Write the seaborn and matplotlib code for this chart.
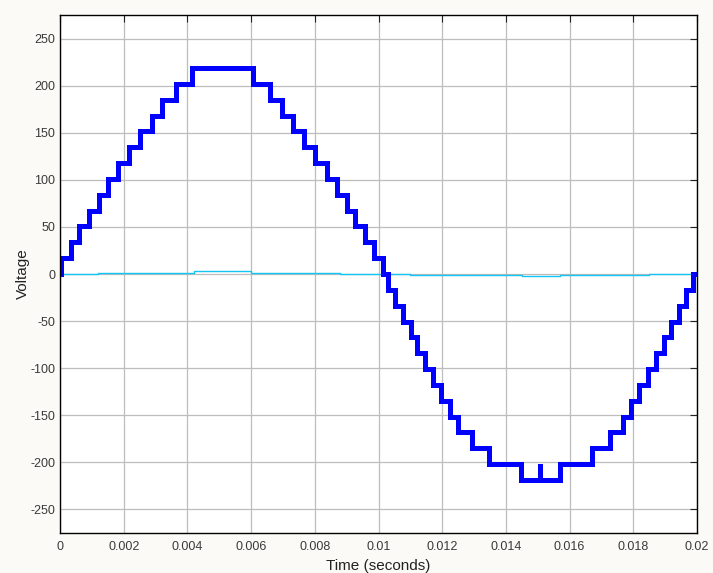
import numpy as np
import pandas as pd
import matplotlib
matplotlib.use("Agg")
import matplotlib.pyplot as plt
import seaborn as sns

# Staircase inverter output: switching instants (s) and voltage level held from each instant
step_times = [0.0, 0.00003, 0.000345, 0.000597, 0.00091, 0.001215, 0.001517, 0.00183,
              0.002157, 0.002512, 0.002879, 0.003212, 0.003633, 0.004135,
              0.00607, 0.00658, 0.00696, 0.00731, 0.00766, 0.00801, 0.00837, 0.00869,
              0.00900, 0.00927, 0.00958, 0.00987, 0.01015,
              0.01031, 0.01052, 0.01078, 0.01102, 0.01122, 0.01146, 0.01170, 0.01196,
              0.01224, 0.01250, 0.01293, 0.01348, 0.01448, 0.01506, 0.01508,
              0.01570, 0.01669, 0.01727, 0.01767, 0.01792, 0.01819, 0.01845, 0.01871,
              0.01897, 0.01917, 0.01944, 0.01965, 0.01988, 0.02000]
step_volts = [0, 17, 34, 51, 67, 84, 101, 118,
              135, 152, 168, 185, 202, 219,
              202, 185, 168, 152, 135, 118, 101, 84,
              67, 51, 34, 17, 0,
              -17, -34, -51, -67, -84, -101, -118, -135,
              -152, -168, -185, -202, -219, -202, -219,
              -202, -185, -168, -152, -135, -118, -101, -84,
              -67, -51, -34, -17, 0, 0]

# Small second trace near zero
ref_times = [0.0, 0.0012, 0.0042, 0.0060, 0.0088, 0.0110, 0.0145, 0.0157, 0.0185, 0.0200]
ref_volts = [0.3, 1.5, 2.8, 1.5, 0.3, -1.0, -2.0, -1.0, -0.3, 0.3]

x_ticks = [0, 0.002, 0.004, 0.006, 0.008, 0.01, 0.012, 0.014, 0.016, 0.018, 0.02]
x_tick_labels = ["0", "0.002", "0.004", "0.006", "0.008", "0.01", "0.012", "0.014",
                 "0.016", "0.018", "0.02"]
y_ticks = [-250, -200, -150, -100, -50, 0, 50, 100, 150, 200, 250]

sns.set_theme(style="white")
plt.rcParams["font.family"] = ["Liberation Sans", "DejaVu Sans"]
plt.rcParams["axes.unicode_minus"] = False

fig = plt.figure(figsize=(7.13, 5.73), dpi=100, facecolor="#fbfaf6")
ax = fig.add_axes([0.0842, 0.0698, 0.8934, 0.904])
ax.set_facecolor("white")

df_step = pd.DataFrame({"t": step_times, "v": step_volts})
df_ref = pd.DataFrame({"t": ref_times, "v": ref_volts})

sns.lineplot(data=df_ref, x="t", y="v", ax=ax, estimator=None, sort=False,
             drawstyle="steps-post", color="#14c4f4", linewidth=1.0)
sns.lineplot(data=df_step, x="t", y="v", ax=ax, estimator=None, sort=False,
             drawstyle="steps-post", color="#0000ff", linewidth=3.6,
             solid_joinstyle="miter")

ax.set_xlim(0, 0.02)
ax.set_ylim(-275, 275)
ax.set_xticks(x_ticks)
ax.set_xticklabels(x_tick_labels)
ax.set_yticks(y_ticks)
ax.grid(True, color="#bdbdbd", linewidth=0.9)
ax.set_axisbelow(True)
ax.tick_params(direction="in", length=5, width=0.8, top=True, right=True,
               labelsize=9, colors="#222222", labelcolor="#3a3a3a", pad=6)
ax.tick_params(axis="y", pad=3.5)
for s in ax.spines.values():
    s.set_color("black")
    s.set_linewidth(1.0)
    s.set_visible(True)
ax.set_xlabel("Time (seconds)", fontsize=11, color="#222222", labelpad=4)
ax.set_ylabel("Voltage", fontsize=11, color="#222222")
ax.yaxis.set_label_coords(-0.047, 0.5)

fig.savefig("out.png", dpi=100, facecolor=fig.get_facecolor())
